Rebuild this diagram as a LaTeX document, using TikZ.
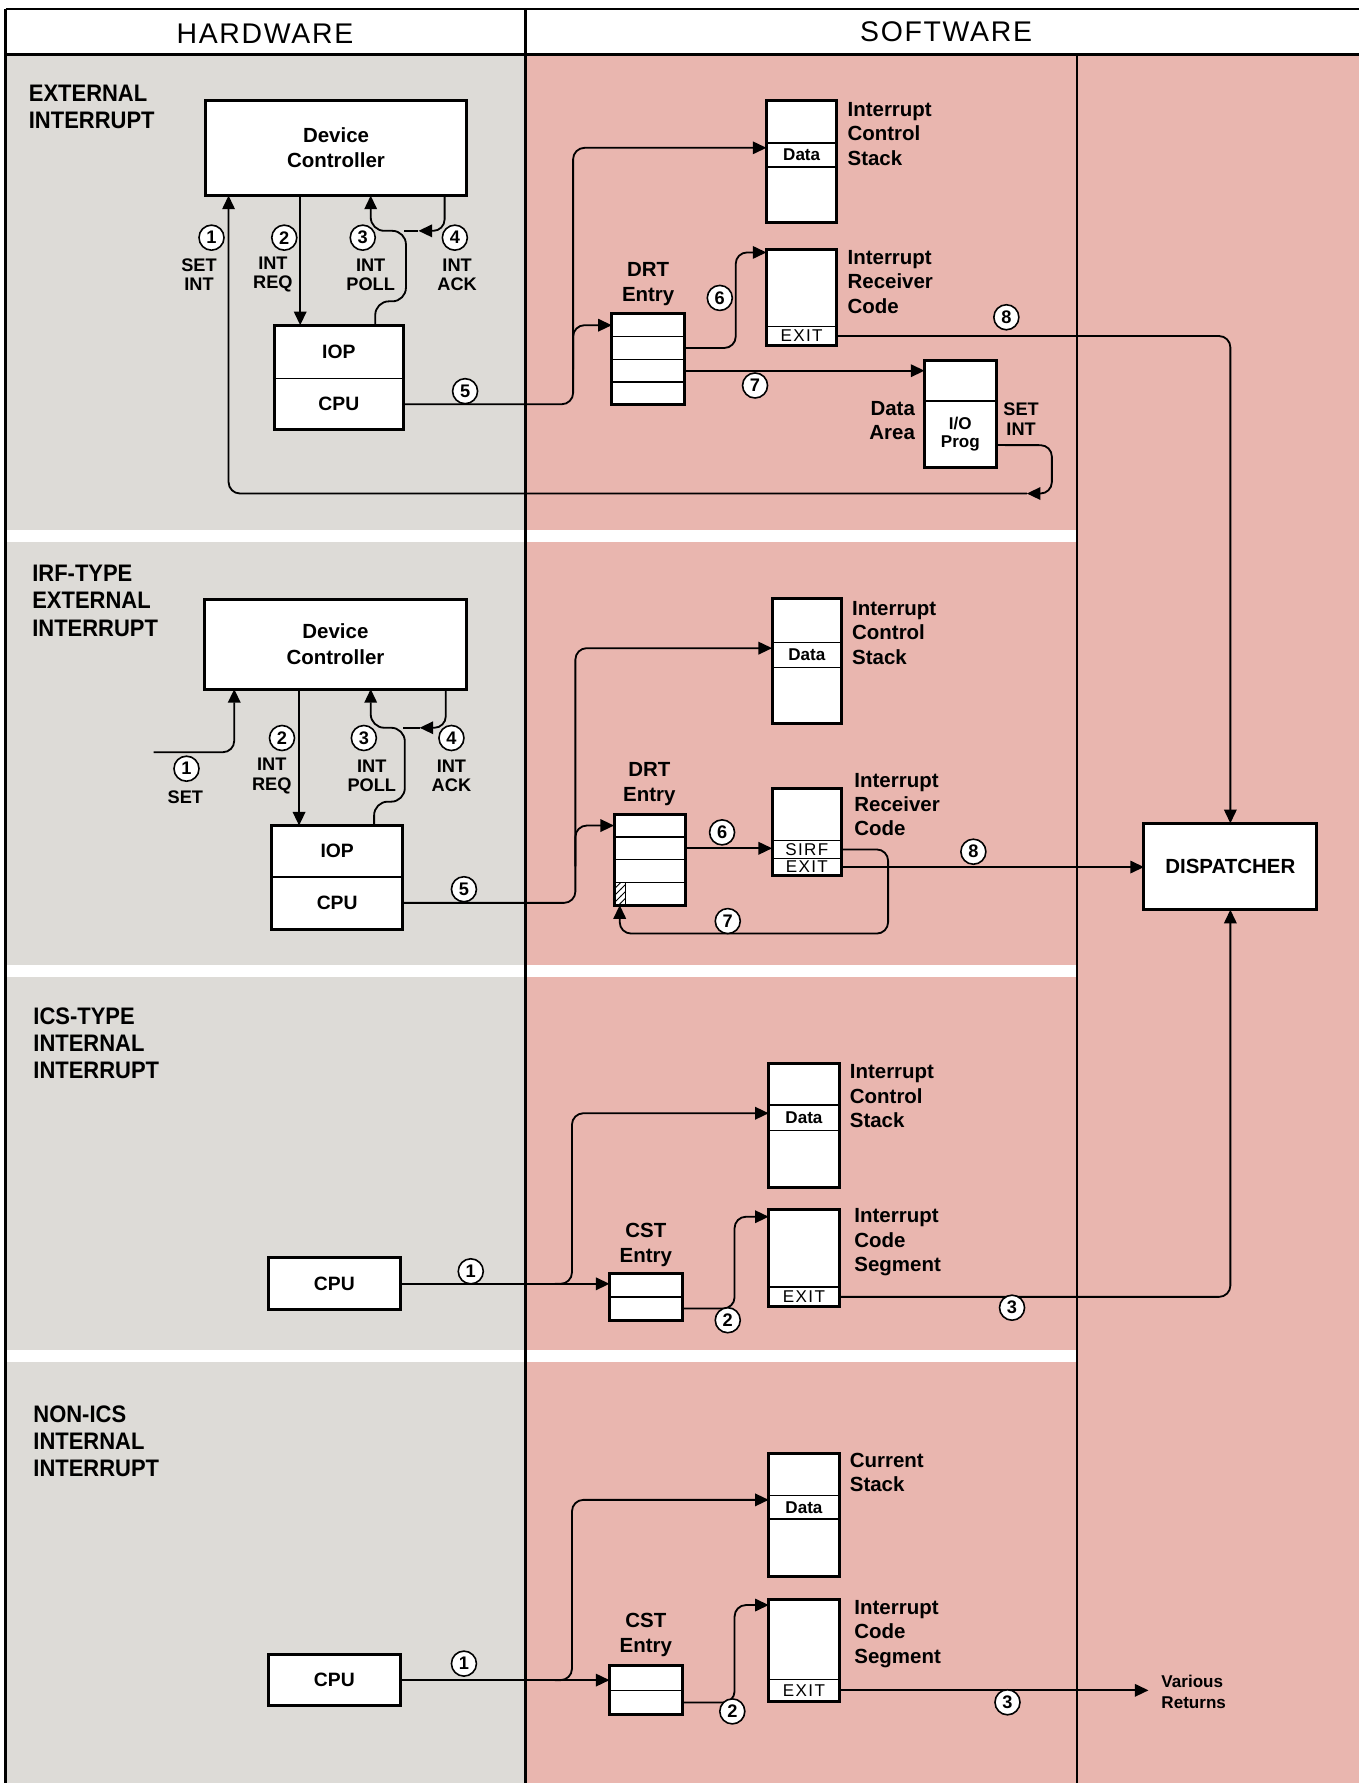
\documentclass[tikz,border=0pt]{standalone}
\usepackage{fontspec}
\setmainfont{Liberation Sans}
\newfontfamily\condfont[FakeStretch=0.92]{Liberation Sans}
\newfontfamily\hdrfont[LetterSpace=6]{Liberation Sans}
\newfontfamily\spacedfont[LetterSpace=8]{Liberation Sans}
\usetikzlibrary{arrows.meta,fit,patterns}
\definecolor{hwgray}{RGB}{221,219,215}
\definecolor{swpink}{RGB}{233,182,175}
\begin{document}
\begin{tikzpicture}[x=0.5pt,y=-0.5pt,
  conn/.style={line width=0.8pt, rounded corners=5pt},
  arr/.style={conn, -{Triangle[length=6pt,width=5.5pt]}},
  hbox/.style={draw, line width=1.3pt, fill=white, inner sep=0pt, outer sep=0pt, align=center, font=\bfseries\fontsize{9}{11}\selectfont},
  obox/.style={draw, line width=1.3pt, inner sep=0pt, outer sep=0pt},
  rowb/.style={draw, line width=0.7pt, fill=white, inner sep=0pt, outer sep=0pt, align=center},
  srowb/.style={draw, line width=0.7pt, inner sep=0pt, outer sep=0pt, align=center},
  numc/.style={circle, draw, line width=0.7pt, fill=white, inner sep=0pt, minimum size=11pt, font=\bfseries\fontsize{8}{8}\selectfont},
  seclbl/.style={anchor=north west, inner sep=0pt, align=left, font=\condfont\bfseries\fontsize{10.5}{12}\selectfont},
  lbl/.style={anchor=west, inner sep=0pt, align=left, font=\bfseries\fontsize{9}{10.75}\selectfont},
  ttl/.style={inner sep=0pt, align=center, font=\bfseries\fontsize{9}{11}\selectfont},
  smlbl/.style={inner sep=0pt, align=center, font=\bfseries\fontsize{8}{8.5}\selectfont},
  exitf/.style={font=\spacedfont\fontsize{7.5}{8}\selectfont},
  datf/.style={font=\bfseries\fontsize{7.5}{8}\selectfont},
  cpuf/.style={font=\bfseries\fontsize{8.5}{9}\selectfont},
  hdr/.style={inner sep=0pt, font=\hdrfont\fontsize{12.5}{14}\selectfont},
]
\useasboundingbox (0,0) rectangle (1195,1568);
% ---------- background ----------
\fill[hwgray] (5,48) rectangle (462,1568);
\fill[swpink] (462,48) rectangle (1195,1568);
\fill[white] (5,8) rectangle (1195,48);
\fill[white] (5,466) rectangle (947,477);
\fill[white] (5,849) rectangle (947,859);
\fill[white] (5,1187) rectangle (947,1198);
\draw[line width=1.1pt] (5,8) -- (1195,8);
\draw[line width=1.1pt] (5,48) -- (1195,48);
\draw[line width=1.3pt] (5,8) -- (5,1568);
\draw[line width=1.6pt] (462,8) -- (462,1568);
\draw[line width=0.9pt] (947,48) -- (947,1568);
\node[hdr] (hw) at (233,30) {HARDWARE};
\node[hdr] (sw) at (832,28) {SOFTWARE};
% ---------- section labels ----------
\node[seclbl] (s1) at (25,74.5) {EXTERNAL\\INTERRUPT};
\node[seclbl] (s2) at (28,496.5) {IRF-TYPE\\EXTERNAL\\INTERRUPT};
\node[seclbl] (s3) at (29,885.5) {ICS-TYPE\\INTERNAL\\INTERRUPT};
\node[seclbl] (s4) at (29,1235.5) {NON-ICS\\INTERNAL\\INTERRUPT};
% ---------- dispatcher ----------
\node[hbox, minimum width=76pt, minimum height=38pt] (disp) at (1082,762) {DISPATCHER};

% ================= SECTION 1 =================
\node[hbox, minimum width=114.5pt, minimum height=42pt] (dc1) at (295.5,130) {Device\\Controller};
\node[rowb, cpuf, minimum width=57pt, minimum height=23.5pt] (iop1) at (298,309.5) {IOP};
\node[rowb, cpuf, minimum width=57pt, minimum height=22.5pt] (cpu1) at (298,355.5) {CPU};
\node[obox, fit=(iop1)(cpu1)] (hw1) {};
\node[hbox, minimum width=31pt, minimum height=54pt] (ics1) at (705,142) {};
\node[srowb, datf, minimum width=31pt, minimum height=10.75pt] (ics1d) at (705,136.25) {Data};
\node[lbl] (ics1l) at (745,117.5) {Interrupt\\Control\\Stack};
\node[hbox, minimum width=31pt, minimum height=42.5pt] (irc1) at (705,261.5) {};
\node[srowb, exitf, minimum width=31pt, minimum height=8.5pt] (irc1x) at (705,295.5) {EXIT};
\node[lbl] (irc1l) at (745,248) {Interrupt\\Receiver\\Code};
\node[rowb, minimum width=32pt, minimum height=10pt] (drt1a) at (570,286) {};
\node[rowb, minimum width=32pt, minimum height=10pt] (drt1b) at (570,306) {};
\node[rowb, minimum width=32pt, minimum height=10pt] (drt1c) at (570,326) {};
\node[rowb, minimum width=32pt, minimum height=10pt] (drt1d) at (570,346) {};
\node[obox, fit=(drt1a)(drt1d)] (drt1) {};
\node[ttl] (drt1l) at (570,250) {DRT\\Entry};
\node[hbox, minimum width=31.5pt, minimum height=47pt] (iopg1) at (844.5,364) {};
\node[srowb, font=\bfseries\fontsize{7.5}{8}\selectfont, minimum width=31.5pt, minimum height=29.2pt] (iopg1p) at (844.5,381.7) {I/O\\Prog};
\node[anchor=east, inner sep=0pt, align=right, font=\bfseries\fontsize{9}{10.5}\selectfont] (dal1) at (805,369.5) {Data\\Area};
\node[smlbl] (si1l) at (898,368.5) {SET\\INT};

\coordinate (si1) at (903,434);
\draw[arr] ([yshift=-4.85pt]iopg1p.east) -- (925,391.5) -- (925,434) -- (si1);
\draw[arr] (si1) -- (201,434) -- ([xshift=10pt]dc1.south west);
\draw[arr] ([xshift=41.5pt]dc1.south west) coordinate (rq1) -- (rq1 |- iop1.north);
\draw[arr, rounded corners=6pt] ([xshift=44.5pt]iop1.north west) -- (330,265) -- (357,265) -- (357,203) -- (326,203) -- ([xshift=72.5pt]dc1.south west);
\coordinate (ak1) at (368,203);
\draw[arr] ([xshift=105pt]dc1.south west) -- (391,203) -- (ak1);
\draw[conn] (ak1) -- (355,203);
\draw[arr] (cpu1.east) -- (504,355.5) -- (504,130) -- ([yshift=3.125pt]ics1d.west);
\coordinate (br1) at (504,325);
\draw[arr] (br1) -- (504,286) -- (drt1a.west);
\draw[arr] (drt1b.east) -- (647,306) -- (647,222) -- ([yshift=-1.5pt]irc1.north west);
\draw[arr] (drt1c.east) -- (drt1c.east -| iopg1.west);
\draw[arr] (irc1x.east) -- (1082,295.5) -- (disp.north);

\node[numc] (n11) at (186,209) {1};
\node[numc] (n12) at (250,209) {2};
\node[numc] (n13) at (319,209) {3};
\node[numc] (n14) at (400,209) {4};
\node[numc] (n15) at (409,344) {5};
\node[numc] (n16) at (633,262) {6};
\node[numc] (n17) at (664,339) {7};
\node[numc] (n18) at (885,279) {8};
\node[smlbl] (l11) at (175,241.5) {SET\\INT};
\node[smlbl] (l12) at (240,241.5) {INT\\REQ};
\node[smlbl] (l13) at (326,241.5) {INT\\POLL};
\node[smlbl] (l14) at (402,241.5) {INT\\ACK};

% ================= SECTION 2 =================
\node[hbox, minimum width=115pt, minimum height=39.5pt] (dc2) at (295,566.5) {Device\\Controller};
\node[rowb, cpuf, minimum width=57.5pt, minimum height=22.5pt] (iop2) at (296.5,748.5) {IOP};
\node[rowb, cpuf, minimum width=57.5pt, minimum height=23pt] (cpu2) at (296.5,794) {CPU};
\node[obox, fit=(iop2)(cpu2)] (hw2) {};
\node[hbox, minimum width=30.5pt, minimum height=55pt] (ics2) at (709.5,581) {};
\node[srowb, datf, minimum width=30.5pt, minimum height=11pt] (ics2d) at (709.5,576) {Data};
\node[lbl] (ics2l) at (749,556.5) {Interrupt\\Control\\Stack};
\node[hbox, minimum width=30.5pt, minimum height=38.5pt] (irc2) at (709.5,731.5) {};
\node[srowb, exitf, minimum width=30.5pt, minimum height=8pt] (irc2s) at (709.5,747) {SIRF};
\node[srowb, exitf, minimum width=30.5pt, minimum height=7.5pt] (irc2x) at (709.5,762.5) {EXIT};
\node[lbl] (irc2l) at (751,707.5) {Interrupt\\Receiver\\Code};
\node[rowb, minimum width=31.5pt, minimum height=10pt] (drt2a) at (571.5,726) {};
\node[rowb, minimum width=31.5pt, minimum height=10pt] (drt2b) at (571.5,746) {};
\node[rowb, minimum width=31.5pt, minimum height=10pt] (drt2c) at (571.5,766) {};
\node[rowb, minimum width=31.5pt, minimum height=10pt] (drt2d) at (571.5,786) {};
\node[draw, line width=0.5pt, pattern=north east lines, inner sep=0pt, outer sep=0pt, minimum width=5pt, minimum height=10pt] (h2) at (545,786) {};
\node[obox, fit=(drt2a)(drt2d)] (drt2) {};
\node[ttl] (drt2l) at (571,689.5) {DRT\\Entry};

\coordinate (set2) at (135,661.5);
\draw[arr] (set2) -- (206,661.5) -- ([xshift=13pt]dc2.south west);
\draw[arr] ([xshift=41.5pt]dc2.south west) coordinate (rq2) -- (rq2 |- iop2.north);
\draw[arr, rounded corners=6pt] ([xshift=45pt]iop2.north west) -- (329,705) -- (356,705) -- (356,640) -- (326,640) -- ([xshift=73pt]dc2.south west);
\coordinate (ak2) at (369,640);
\draw[arr] ([xshift=106pt]dc2.south west) -- (392,640) -- (ak2);
\draw[conn] (ak2) -- (354,640);
\draw[arr] (cpu2.east) -- (506,794) -- (506,570) -- ([yshift=3pt]ics2d.west);
\coordinate (br2) at (506,762);
\draw[arr] (br2) -- (506,726) -- (drt2a.west);
\draw[arr] (drt2b.east) -- (drt2b.east -| irc2s.west);
\draw[arr] (irc2s.east) -- (781,747) -- (781,821) -- (545,821) -- (h2.south);
\draw[arr] (irc2x.east) -- (irc2x.east -| disp.west);

\node[numc] (n21) at (164,676) {1};
\node[numc] (n22) at (248,649) {2};
\node[numc] (n23) at (320,649) {3};
\node[numc] (n24) at (397,649) {4};
\node[numc] (n25) at (408,782) {5};
\node[numc] (n26) at (635,732) {6};
\node[numc] (n27) at (640,810) {7};
\node[numc] (n28) at (856,749) {8};
\node[smlbl] (l21) at (163,701) {SET};
\node[smlbl] (l22) at (239,682.5) {INT\\REQ};
\node[smlbl] (l23) at (327,682.5) {INT\\POLL};
\node[smlbl] (l24) at (397,682.5) {INT\\ACK};

% ================= SECTION 3 =================
\node[hbox, cpuf, minimum width=58pt, minimum height=23pt] (cpu3) at (294,1129) {CPU};
\node[rowb, minimum width=32pt, minimum height=10.25pt] (cst3a) at (568,1130.25) {};
\node[rowb, minimum width=32pt, minimum height=10.25pt] (cst3b) at (568,1150.75) {};
\node[obox, fit=(cst3a)(cst3b)] (cst3) {};
\node[ttl] (cst3l) at (568,1094.5) {CST\\Entry};
\node[hbox, minimum width=31pt, minimum height=54.5pt] (ics3) at (707,989.5) {};
\node[srowb, datf, minimum width=31pt, minimum height=11pt] (ics3d) at (707,983) {Data};
\node[lbl] (ics3l) at (747,964) {Interrupt\\Control\\Stack};
\node[hbox, minimum width=31pt, minimum height=42.5pt] (seg3) at (707,1106.5) {};
\node[srowb, exitf, minimum width=31pt, minimum height=8.5pt] (seg3x) at (707,1140.5) {EXIT};
\node[lbl] (seg3l) at (751,1092.5) {Interrupt\\Code\\Segment};

\draw[arr] (cpu3.east) -- (cpu3.east -| cst3a.west);
\coordinate (br3) at (488,1129);
\draw[arr] (br3) -- (503,1129) -- (503,979) -- ([yshift=2pt]ics3d.west);
\draw[arr] (cst3b.east) -- (646,1150.75) -- (646,1070) -- ([yshift=-3pt]seg3.north west);
\draw[arr] (seg3x.east) -- (1082,1140.5) -- (disp.south);

\node[numc] (n31) at (414,1118) {1};
\node[numc] (n32) at (640,1161) {2};
\node[numc] (n33) at (890,1150) {3};

% ================= SECTION 4 =================
\node[hbox, cpuf, minimum width=58pt, minimum height=22.5pt] (cpu4) at (294,1477.5) {CPU};
\node[rowb, minimum width=32pt, minimum height=10.75pt] (cst4a) at (568,1475.75) {};
\node[rowb, minimum width=32pt, minimum height=10.75pt] (cst4b) at (568,1497.25) {};
\node[obox, fit=(cst4a)(cst4b)] (cst4) {};
\node[ttl] (cst4l) at (568,1438) {CST\\Entry};
\node[hbox, minimum width=31pt, minimum height=54pt] (cs4) at (707,1332) {};
\node[srowb, datf, minimum width=31pt, minimum height=10.5pt] (cs4d) at (707,1325.5) {Data};
\node[lbl] (cs4l) at (747,1295) {Current\\Stack};
\node[hbox, minimum width=31pt, minimum height=44.5pt] (seg4) at (707,1451.5) {};
\node[srowb, exitf, minimum width=31pt, minimum height=9.5pt] (seg4x) at (707,1486.5) {EXIT};
\node[lbl] (seg4l) at (751,1437) {Interrupt\\Code\\Segment};
\node[anchor=west, inner sep=0pt, align=left, font=\bfseries\fontsize{7.5}{9}\selectfont] (vr) at (1021,1488) {Various\\Returns};

\draw[arr] (cpu4.east) -- (cpu4.east -| cst4a.west);
\coordinate (br4) at (488,1477.5);
\draw[arr] (br4) -- (503,1477.5) -- (503,1319) -- ([yshift=3.25pt]cs4d.west);
\draw[arr] (cst4b.east) -- (646,1497.25) -- (646,1411.5) -- ([yshift=-2.25pt]seg4.north west);
\coordinate (ret) at (1010,1486.5);
\draw[arr] (seg4x.east) -- (ret);

\node[numc] (n41) at (408,1463) {1};
\node[numc] (n42) at (644,1505) {2};
\node[numc] (n43) at (886,1497) {3};
\end{tikzpicture}
\end{document}
